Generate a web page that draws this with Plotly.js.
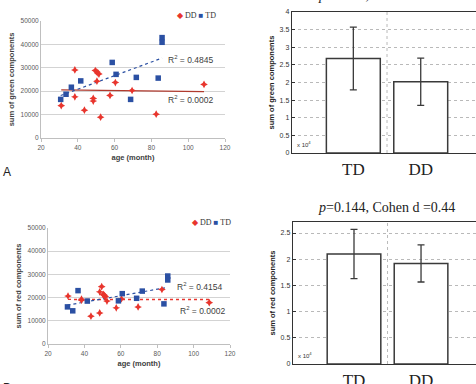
<!DOCTYPE html>
<html>
<head>
<meta charset="utf-8">
<script src="https://cdn.plot.ly/plotly-3.0.1.min.js"></script>
<style>
  html, body { margin: 0; padding: 0; background: #fff; overflow: hidden; }
  #chart { width: 476px; height: 384px; }
</style>
</head>
<body>
<div id="chart"></div>
<script>
// Ages (months) of the two groups
const ddAge = [31, 38.4, 38.4, 43.6, 48.4, 48.4, 49.5, 50.3, 51, 51.5, 50.4, 52.4, 57.5, 60.4, 69.5, 82.6, 108.6];
const tdAge = [30.7, 33.6, 36.5, 41.6, 58.7, 60.8, 68.7, 71.8, 83.7, 85.8, 85.8];

// Sum of green components per child
const ddGreen = [13800, 29100, 17600, 11900, 16900, 15800, 28800, 28300, 27700, 27300, 24300, 8900, 18200, 23700, 20300, 10200, 22900];
const tdGreen = [16500, 18700, 21700, 24400, 32300, 27200, 16500, 25900, 25600, 42900, 40900];

// Sum of red components per child
const ddRed = [20700, 18900, 19300, 12000, 22500, 13400, 24700, 21400, 21000, 20400, 21200, 18500, 15600, 19500, 16000, 23500, 17800];
const tdRed = [16000, 14300, 23000, 18500, 18600, 21700, 19700, 22800, 17300, 29300, 27600];

// Group means and standard deviations (x 10^4)
const groups = ['TD', 'DD'];
const greenMean = [2.68, 2.02];
const greenSd = [0.89, 0.67];
const redMean = [2.10, 1.92];
const redSd = [0.47, 0.355];

const RED = '#e8352d';
const BLUE = '#2b50a3';

// Least-squares line over the range of the ages
function fitLine(x, y) {
  const n = x.length;
  const mx = x.reduce((a, b) => a + b, 0) / n;
  const my = y.reduce((a, b) => a + b, 0) / n;
  let sxy = 0, sxx = 0;
  for (let i = 0; i < n; i++) { sxy += (x[i] - mx) * (y[i] - my); sxx += (x[i] - mx) ** 2; }
  const b = sxy / sxx, a = my - b * mx;
  const x0 = Math.min(...x), x1 = Math.max(...x);
  return { x: [x0, x1], y: [a + b * x0, a + b * x1] };
}

const W = 476, H = 384;
const px = v => v / W;
const py = v => 1 - v / H;

const fitTdG = fitLine(tdAge, tdGreen), fitDdG = fitLine(ddAge, ddGreen);
const fitTdR = fitLine(tdAge, tdRed), fitDdR = fitLine(ddAge, ddRed);

const ddMarker = { symbol: 'star-diamond', size: 5.5, color: RED, line: { width: 0 } };
const tdMarker = { symbol: 'square', size: 5.5, color: BLUE, line: { width: 0 } };

const traces = [
  // Panel A scatter
  { x: fitDdG.x, y: fitDdG.y, mode: 'lines', line: { color: '#b03a2e', width: 1.2 }, xaxis: 'x', yaxis: 'y' },
  { x: fitTdG.x, y: fitTdG.y, mode: 'lines', line: { color: BLUE, width: 1.2, dash: 'dot' }, xaxis: 'x', yaxis: 'y' },
  { x: ddAge, y: ddGreen, mode: 'markers', marker: ddMarker, xaxis: 'x', yaxis: 'y' },
  { x: tdAge, y: tdGreen, mode: 'markers', marker: tdMarker, xaxis: 'x', yaxis: 'y' },
  // Panel A bars
  { x: groups, y: greenMean, type: 'bar', width: 0.8,
    marker: { color: '#ffffff', line: { color: '#3a3a3a', width: 1.5 } },
    error_y: { type: 'data', array: greenSd, color: '#3a3a3a', thickness: 1.3, width: 3.5 },
    xaxis: 'x2', yaxis: 'y2' },
  // Panel B scatter
  { x: fitDdR.x, y: fitDdR.y, mode: 'lines', line: { color: RED, width: 1.4, dash: 'dot' }, xaxis: 'x3', yaxis: 'y3' },
  { x: fitTdR.x, y: fitTdR.y, mode: 'lines', line: { color: BLUE, width: 1.2, dash: 'dot' }, xaxis: 'x3', yaxis: 'y3' },
  { x: ddAge, y: ddRed, mode: 'markers', marker: ddMarker, xaxis: 'x3', yaxis: 'y3' },
  { x: tdAge, y: tdRed, mode: 'markers', marker: tdMarker, xaxis: 'x3', yaxis: 'y3' },
  // Panel B bars
  { x: groups, y: redMean, type: 'bar', width: 0.8,
    marker: { color: '#ffffff', line: { color: '#3a3a3a', width: 1.5 } },
    error_y: { type: 'data', array: redSd, color: '#3a3a3a', thickness: 1.3, width: 3.5 },
    xaxis: 'x4', yaxis: 'y4' }
];

const tickFontS = { family: 'Liberation Sans, Arial, sans-serif', size: 6.5, color: '#595959' };
const titleFontS = { family: 'Liberation Sans, Arial, sans-serif', size: 7.5, color: '#404040', weight: 'bold' };

function scatterX(domain, anchor) {
  return {
    domain, anchor, range: [20, 120], dtick: 20, tick0: 20,
    showgrid: false, zeroline: false, showline: true, linecolor: '#bfbfbf', linewidth: 1,
    ticks: 'outside', ticklen: 3, tickcolor: '#bfbfbf', tickfont: tickFontS,
    title: { text: 'age (month)', font: titleFontS, standoff: 4 }
  };
}
function scatterY(domain, anchor, title) {
  return {
    domain, anchor, range: [0, 50000], dtick: 10000, tickformat: 'd',
    showgrid: true, gridcolor: '#d3d3d3', gridwidth: 1, zeroline: false,
    showline: true, linecolor: '#bfbfbf', linewidth: 1, ticks: '', tickfont: tickFontS,
    title: { text: title, font: titleFontS, standoff: 4 }
  };
}
const tickFontM = { family: 'Liberation Sans, Arial, sans-serif', size: 7, color: '#333' };
function barX(domain, anchor) {
  return {
    domain, anchor, type: 'category', range: [-0.91, 1.82],
    showgrid: false, zeroline: false, showline: true, linecolor: '#333', linewidth: 1.3, mirror: true,
    ticks: '', tickfont: { family: 'Liberation Serif, Times New Roman, serif', size: 17, color: '#222' }
  };
}
function barY(domain, anchor, range, title) {
  return {
    domain, anchor, range, dtick: 0.5, tick0: 0,
    showgrid: true, gridcolor: '#a8a8a8', gridwidth: 0.8, griddash: 'dot', zeroline: false,
    showline: true, linecolor: '#333', linewidth: 1.3, ticks: 'inside', ticklen: 3, tickcolor: '#333',
    tickfont: tickFontM,
    title: { text: title, font: { family: 'Liberation Sans, Arial, sans-serif', size: 7.5, color: '#222', weight: 'bold' }, standoff: 4 }
  };
}

const legendText = '<span style="color:' + RED + '">◆</span> DD <span style="color:' + BLUE + '">■</span> TD';
const serif = 'Liberation Serif, Times New Roman, serif';
const r2Font = { family: 'Liberation Sans, Arial, sans-serif', size: 8.5, color: '#404040' };

const layout = {
  width: W, height: H, margin: { l: 0, r: 0, t: 0, b: 0 },
  paper_bgcolor: '#fff', plot_bgcolor: 'rgba(0,0,0,0)', showlegend: false,
  xaxis: scatterX([px(41), px(225)], 'y'),
  yaxis: scatterY([py(138), py(21)], 'x', 'sum of green components'),
  xaxis2: barX([px(292), 1], 'y2'),
  yaxis2: barY([py(153), py(12)], 'x2', [0, 4], 'sum of green components'),
  xaxis3: scatterX([px(48), px(230)], 'y3'),
  yaxis3: scatterY([py(344), py(228)], 'x3', 'sum of red components'),
  xaxis4: barX([px(293), 1], 'y4'),
  yaxis4: barY([py(364), py(222)], 'x4', [0, 2.71], 'sum of red components'),
  shapes: [
    { type: 'line', xref: 'x2', yref: 'y2 domain', x0: 0.5, x1: 0.5, y0: 0, y1: 1, layer: 'below',
      line: { color: '#a8a8a8', width: 0.8, dash: 'dot' } },
    { type: 'line', xref: 'x4', yref: 'y4 domain', x0: 0.5, x1: 0.5, y0: 0, y1: 1, layer: 'below',
      line: { color: '#a8a8a8', width: 0.8, dash: 'dot' } }
  ],
  annotations: [
    { text: legendText, xref: 'paper', yref: 'paper', x: px(218), y: py(16), xanchor: 'right', yanchor: 'middle',
      showarrow: false, font: { family: serif, size: 8, color: '#333' } },
    { text: legendText, xref: 'paper', yref: 'paper', x: px(233), y: py(222), xanchor: 'right', yanchor: 'middle',
      showarrow: false, font: { family: serif, size: 8, color: '#333' } },
    { text: 'R<sup>2</sup> = 0.4845', xref: 'paper', yref: 'paper', x: px(166), y: py(59), xanchor: 'left', yanchor: 'middle', showarrow: false, font: r2Font },
    { text: 'R<sup>2</sup> = 0.0002', xref: 'paper', yref: 'paper', x: px(166), y: py(99), xanchor: 'left', yanchor: 'middle', showarrow: false, font: r2Font },
    { text: 'R<sup>2</sup> = 0.4154', xref: 'paper', yref: 'paper', x: px(175), y: py(286), xanchor: 'left', yanchor: 'middle', showarrow: false, font: r2Font },
    { text: 'R<sup>2</sup> = 0.0002', xref: 'paper', yref: 'paper', x: px(178), y: py(310), xanchor: 'left', yanchor: 'middle', showarrow: false, font: r2Font },
    { text: 'A', xref: 'paper', yref: 'paper', x: px(1), y: py(172), xanchor: 'left', yanchor: 'middle', showarrow: false,
      font: { family: 'Liberation Sans, Arial, sans-serif', size: 12, color: '#222' } },
    { text: 'B', xref: 'paper', yref: 'paper', x: px(1), y: py(379), xanchor: 'left', yanchor: 'top', showarrow: false,
      font: { family: 'Liberation Sans, Arial, sans-serif', size: 12, color: '#222' } },
    { text: '<i>p</i>=0.017, Cohen d =0.94', xref: 'paper', yref: 'paper', x: px(386), y: py(5), xanchor: 'center', yanchor: 'bottom', showarrow: false,
      font: { family: serif, size: 14, color: '#222' } },
    { text: '<i>p</i>=0.144, Cohen d =0.44', xref: 'paper', yref: 'paper', x: px(386), y: py(207), xanchor: 'center', yanchor: 'middle', showarrow: false,
      font: { family: serif, size: 14, color: '#222' } },
    { text: 'x 10<sup>4</sup>', xref: 'paper', yref: 'paper', x: px(295), y: py(150), xanchor: 'left', yanchor: 'bottom', showarrow: false,
      font: { family: 'Liberation Sans, Arial, sans-serif', size: 6, color: '#333' } },
    { text: 'x 10<sup>4</sup>', xref: 'paper', yref: 'paper', x: px(296), y: py(361), xanchor: 'left', yanchor: 'bottom', showarrow: false,
      font: { family: 'Liberation Sans, Arial, sans-serif', size: 6, color: '#333' } }
  ]
};

Plotly.newPlot('chart', traces, layout, { staticPlot: true, displayModeBar: false });
</script>
</body>
</html>
